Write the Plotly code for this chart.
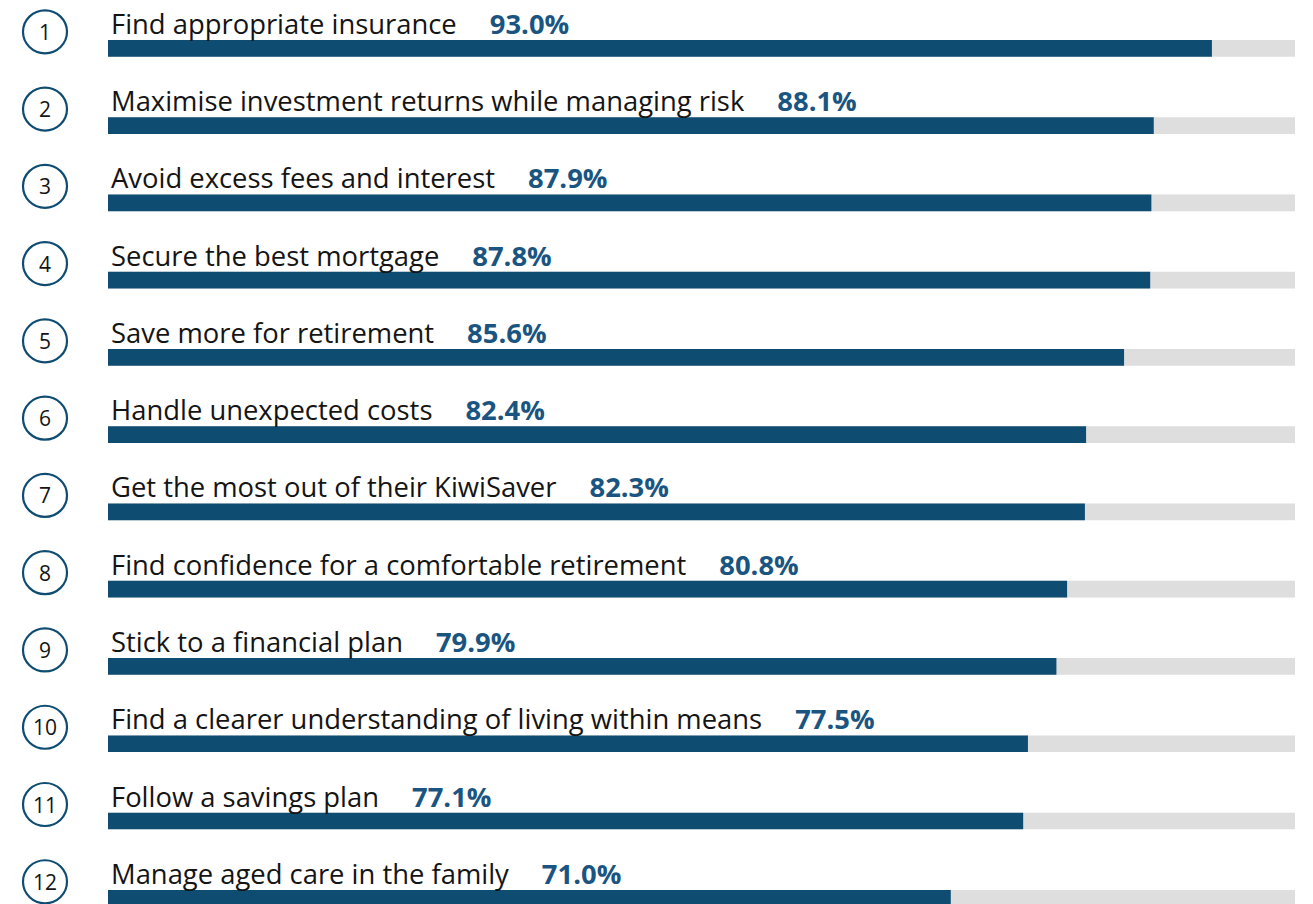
import plotly.graph_objects as go

labels = [
    "Find appropriate insurance",
    "Maximise investment returns while managing risk",
    "Avoid excess fees and interest",
    "Secure the best mortgage",
    "Save more for retirement",
    "Handle unexpected costs",
    "Get the most out of their KiwiSaver",
    "Find confidence for a comfortable retirement",
    "Stick to a financial plan",
    "Find a clearer understanding of living within means",
    "Follow a savings plan",
    "Manage aged care in the family",
]
values = [93.0, 88.1, 87.9, 87.8, 85.6, 82.4, 82.3, 80.8, 79.9, 77.5, 77.1, 71.0]
ranks = [str(i + 1) for i in range(len(labels))]
full = [100] * len(labels)

OFF = 8  # page body margin
W, H = 1313, 904
x0px, x100px = 108 - OFF, 1295 - OFF
pxu = (x100px - x0px) / 100.0
xmin = -x0px / pxu
xmax = xmin + W / pxu

row_px = 77.27
first_center = 48.3 - OFF
ytop = -first_center / row_px
ybot = 11 + (H - (first_center + 11 * row_px)) / row_px

BLUE = "#0F4C72"
GRAY = "#DEDEDE"
FONT = "Open Sans"

ypos = list(range(len(labels)))

fig = go.Figure()
fig.add_trace(go.Bar(x=full, y=ypos, orientation="h", marker=dict(color=GRAY, line=dict(width=0)),
                     width=16.7 / row_px, hoverinfo="skip"))
fig.add_trace(go.Bar(x=values, y=ypos, orientation="h", marker=dict(color=BLUE, line=dict(width=0)),
                     width=16.7 / row_px, hoverinfo="skip"))

annotations = []
shapes = []
cx = (45 - OFF - x0px) / pxu
rx = 22 / pxu
ry = 21.5 / row_px
for i, (lab, v, r) in enumerate(zip(labels, values, ranks)):
    annotations.append(dict(
        x=(109 - OFF - x0px) / pxu, y=i, xref="x", yref="y", xanchor="left", yanchor="middle",
        yshift=25, showarrow=False,
        text=f"{lab}&nbsp;&nbsp;&nbsp;&nbsp;&#8201;<b><span style='color:#1A5581'>{v:.1f}%</span></b>",
        font=dict(family=FONT, size=27.4, color="#141414"),
    ))
    cy = i - 16.5 / row_px
    shapes.append(dict(type="circle", xref="x", yref="y",
                       x0=cx - rx, x1=cx + rx, y0=cy - ry, y1=cy + ry,
                       line=dict(color=BLUE, width=2.2), fillcolor="rgba(0,0,0,0)"))
    annotations.append(dict(
        x=cx, y=cy, xref="x", yref="y", xanchor="center", yanchor="middle",
        showarrow=False, text=r,
        font=dict(family=FONT, size=21, color="#141414"),
    ))

fig.update_layout(
    width=W, height=H, margin=dict(l=0, r=0, t=0, b=0),
    plot_bgcolor="white", paper_bgcolor="white",
    barmode="overlay", showlegend=False,
    xaxis=dict(range=[xmin, xmax], visible=False, fixedrange=True),
    yaxis=dict(range=[ybot, ytop], visible=False, fixedrange=True),
    annotations=annotations, shapes=shapes,
)

fig.write_html("out.html")
